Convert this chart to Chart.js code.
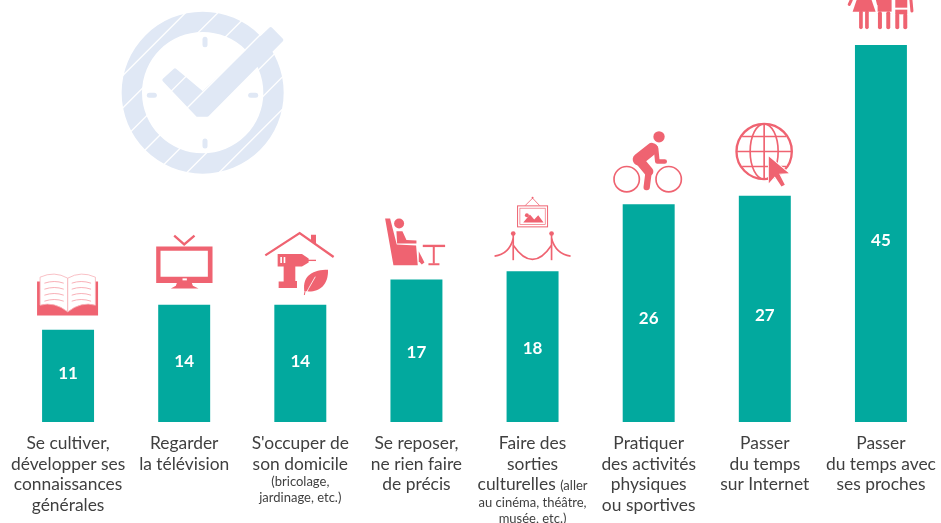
<!DOCTYPE html>
<html lang="fr">
<head>
<meta charset="utf-8">
<title>Activités</title>
<script src="https://cdn.jsdelivr.net/npm/chart.js@4/dist/chart.umd.min.js"></script>
<style>
    html, body { margin: 0; padding: 0; background: #fff; overflow: hidden; }
    canvas { display: block; }
</style>
</head>
<body>
<canvas id="grafico" width="941" height="523"></canvas>
<script>
// ce qui suit une parenthèse ouvrante est écrit en petit
const categories = [
    ['Se cultiver,', 'développer ses', 'connaissances', 'générales'],
    ['Regarder', 'la télévision'],
    ["S'occuper de", 'son domicile', '(bricolage,', 'jardinage, etc.)'],
    ['Se reposer,', 'ne rien faire', 'de précis'],
    ['Faire des', 'sorties', 'culturelles (aller', 'au cinéma, théâtre,', 'musée, etc.)'],
    ['Pratiquer', 'des activités', 'physiques', 'ou sportives'],
    ['Passer', 'du temps', 'sur Internet'],
    ['Passer', 'du temps avec', 'ses proches']
];
const valeurs = [11, 14, 14, 17, 18, 26, 27, 45];

const VERT = '#02a99e';
const ROSE = '#ef6371';
const TEXTE = '#3f3f3f';
const FOND_HORLOGE = '#e0e8f5';
const POLICE_GRANDE = '17.4px Lato';
const POLICE_PETITE = '13px Lato';
// décalages en pixels par rapport au milieu et au haut de chaque barre
const decalageValeur = [-2, -2, -2, 2, 2, 5, 7, 7];
const decalageIcone = [-2, -3, -3, -1, -1, -2, 0, 0];

function ligne(ctx, pts, largeur, couleur) {
    ctx.beginPath();
    pts.forEach((p, i) => i ? ctx.lineTo(p[0], p[1]) : ctx.moveTo(p[0], p[1]));
    ctx.lineWidth = largeur;
    ctx.strokeStyle = couleur || ROSE;
    ctx.stroke();
}
function poly(ctx, pts, couleur) {
    ctx.beginPath();
    pts.forEach((p, i) => i ? ctx.lineTo(p[0], p[1]) : ctx.moveTo(p[0], p[1]));
    ctx.closePath();
    ctx.fillStyle = couleur || ROSE;
    ctx.fill();
}
function rond(ctx, x, y, r, couleur) {
    ctx.beginPath();
    ctx.arc(x, y, r, 0, Math.PI * 2);
    ctx.fillStyle = couleur || ROSE;
    ctx.fill();
}
function cercle(ctx, x, y, r, largeur) {
    ctx.beginPath();
    ctx.arc(x, y, r, 0, Math.PI * 2);
    ctx.lineWidth = largeur;
    ctx.strokeStyle = ROSE;
    ctx.stroke();
}

// pictogrammes : unités = 1/3 de pixel, origine = milieu du haut de la barre
function iconeLivre(ctx) {
    poly(ctx, [[-93, -139], [90, -139], [90, -37], [-93, -37]]);
    [-1, 1].forEach(s => {
        const px = x => -1 + s * x;
        ctx.beginPath();
        ctx.moveTo(px(0), -149);
        ctx.quadraticCurveTo(px(40), -172, px(83), -152);
        ctx.lineTo(px(83), -68);
        ctx.quadraticCurveTo(px(40), -80, px(0), -48);
        ctx.closePath();
        ctx.fillStyle = '#fff';
        ctx.fill();
        ctx.lineWidth = 2.5;
        ctx.strokeStyle = '#f8b5bb';
        ctx.stroke();
        [-136, -118, -100, -82].forEach(y => {
            ctx.beginPath();
            ctx.moveTo(px(12), y + 2);
            ctx.quadraticCurveTo(px(40), y - 8, px(70), y + 2);
            ctx.lineWidth = 2.5;
            ctx.strokeStyle = '#f6a0a8';
            ctx.stroke();
        });
    });
}
function iconeTele(ctx) {
    ligne(ctx, [[-30, -198], [0, -172], [31, -198]], 7);
    poly(ctx, [[-84, -166], [85, -166], [85, -56], [-84, -56]]);
    poly(ctx, [[-71, -153], [71, -153], [71, -75], [-71, -75]], '#fff');
    poly(ctx, [[-5, -70], [8, -70], [8, -64], [-5, -64]], '#fff');
    poly(ctx, [[-22, -56], [23, -56], [26, -48], [43, -40], [-40, -40], [-25, -48]]);
}
function iconeMaison(ctx) {
    ligne(ctx, [[-105, -139], [-2, -206], [100, -134]], 7);
    poly(ctx, [[32, -201], [47, -201], [47, -172], [32, -184]]);
    poly(ctx, [[-68, -143], [5, -143], [25, -130], [25, -118], [5, -106], [-15, -106], [-15, -62], [-10, -62], [-10, -41], [-65, -41], [-65, -61], [-50, -61], [-50, -106], [-68, -106]]);
    ligne(ctx, [[20, -124], [47, -124]], 4);
    poly(ctx, [[-60, -134], [-55, -134], [-55, -116], [-60, -116]], '#fff');
    poly(ctx, [[-50, -134], [-45, -134], [-45, -116], [-50, -116]], '#fff');
    ctx.beginPath();
    ctx.moveTo(83, -96);
    ctx.bezierCurveTo(40, -96, 5, -80, 12, -32);
    ctx.bezierCurveTo(50, -25, 85, -45, 83, -96);
    ctx.closePath();
    ctx.fillStyle = ROSE;
    ctx.fill();
    ligne(ctx, [[45, -75], [25, -40], [15, -20]], 2.5, '#fff');
    ligne(ctx, [[15, -35], [12, -20]], 3);
}
function iconeFauteuil(ctx) {
    poly(ctx, [[-94, -180], [-79, -180], [-59, -102], [-1, -99], [4, -40], [-69, -40]]);
    rond(ctx, -52, -165, 15);
    poly(ctx, [[-60, -142], [-42, -142], [-30, -116], [0, -114], [0, -105], [-58, -105]]);
    poly(ctx, [[7, -82], [24, -48], [16, -42], [7, -52]]);
    ligne(ctx, [[19, -98], [86, -98]], 7);
    ligne(ctx, [[52, -96], [52, -45]], 6);
    ligne(ctx, [[36, -43], [69, -43]], 6);
}
function iconeMusee(ctx) {
    ctx.strokeStyle = ROSE;
    ctx.lineWidth = 3;
    ctx.strokeRect(-45, -193, 90, 63);
    ctx.lineWidth = 2;
    ctx.strokeRect(-38, -186, 76, 49);
    poly(ctx, [[-28, -143], [-8, -167], [5, -152], [17, -165], [33, -143]]);
    rond(ctx, -17, -165, 6);
    ligne(ctx, [[-22, -194], [0, -216], [21, -194]], 2.5);
    rond(ctx, 0, -217, 3);
    rond(ctx, -58, -110, 7);
    rond(ctx, 57, -110, 7);
    ligne(ctx, [[-58, -110], [-58, -30]], 5);
    ligne(ctx, [[57, -110], [57, -30]], 5);
    ctx.lineWidth = 5;
    ctx.strokeStyle = ROSE;
    ctx.beginPath(); ctx.moveTo(-114, -42); ctx.quadraticCurveTo(-70, -48, -58, -95); ctx.stroke();
    ctx.beginPath(); ctx.moveTo(-58, -75); ctx.quadraticCurveTo(0, 10, 57, -75); ctx.stroke();
    ctx.beginPath(); ctx.moveTo(57, -95); ctx.quadraticCurveTo(70, -48, 114, -42); ctx.stroke();
}
function iconeVelo(ctx) {
    cercle(ctx, -66, -69, 38, 5);
    cercle(ctx, 60, -69, 38, 5);
    rond(ctx, 31, -196, 17);
    ctx.lineJoin = 'round';
    ctx.lineCap = 'round';
    ligne(ctx, [[10, -160], [-30, -128]], 36);
    ligne(ctx, [[-30, -128], [0, -92]], 28);
    ligne(ctx, [[0, -92], [-6, -45]], 19);
    ligne(ctx, [[22, -162], [26, -122], [48, -122]], 14);
}
function iconeGlobe(ctx) {
    cercle(ctx, -2, -133, 83, 7);
    ctx.lineWidth = 5;
    ctx.strokeStyle = ROSE;
    ctx.beginPath(); ctx.ellipse(-2, -133, 42, 83, 0, 0, Math.PI * 2); ctx.stroke();
    ligne(ctx, [[-2, -216], [-2, -50]], 5);
    ligne(ctx, [[-85, -133], [81, -133]], 5);
    ligne(ctx, [[-68, -178], [64, -178]], 5);
    ligne(ctx, [[-68, -88], [64, -88]], 5);
    const fleche = [[12, -118], [12, -38], [30, -58], [50, -28], [60, -33], [43, -66], [72, -68]];
    ctx.lineJoin = 'miter';
    ctx.beginPath();
    fleche.forEach((p, i) => i ? ctx.lineTo(p[0], p[1]) : ctx.moveTo(p[0], p[1]));
    ctx.closePath();
    ctx.lineWidth = 5;
    ctx.strokeStyle = '#fff';
    ctx.stroke();
    poly(ctx, fleche);
}
function iconeFamille(ctx) {
    poly(ctx, [[-73, -135], [-28, -135], [-16, -100], [-85, -100]]);
    ctx.lineCap = 'round';
    ligne(ctx, [[-60, -98], [-60, -53]], 11);
    ligne(ctx, [[-42, -98], [-42, -53]], 11);
    ligne(ctx, [[-89, -135], [-95, -122]], 9);
    ligne(ctx, [[-12, -135], [-9, -122]], 6);
    poly(ctx, [[-10, -135], [32, -135], [32, -100], [-10, -100]]);
    ligne(ctx, [[-3, -95], [-3, -53]], 12);
    ligne(ctx, [[22, -95], [22, -53]], 12);
    poly(ctx, [[43, -135], [79, -135], [79, -112], [43, -112]]);
    poly(ctx, [[43, -106], [79, -106], [79, -92], [43, -92]]);
    ligne(ctx, [[49, -90], [49, -53]], 12);
    ligne(ctx, [[73, -90], [73, -53]], 12);
    ligne(ctx, [[90, -135], [93, -102]], 9);
}
const icones = [iconeLivre, iconeTele, iconeMaison, iconeFauteuil, iconeMusee, iconeVelo, iconeGlobe, iconeFamille];

function dessineHorloge(ctx) {
    ctx.save();
    ctx.translate(100, 0);
    ctx.scale(1 / 3, 1 / 3);
    ctx.beginPath();
    ctx.arc(308, 278, 243, 0, Math.PI * 2);
    ctx.arc(308, 278, 182, 0, Math.PI * 2, true);
    ctx.fillStyle = FOND_HORLOGE;
    ctx.fill();
    ctx.lineCap = 'round';
    ligne(ctx, [[315, 118], [315, 134]], 15, FOND_HORLOGE);
    ligne(ctx, [[315, 423], [315, 438]], 15, FOND_HORLOGE);
    ligne(ctx, [[148, 286], [163, 286]], 15, FOND_HORLOGE);
    ligne(ctx, [[452, 286], [467, 286]], 15, FOND_HORLOGE);
    ctx.lineJoin = 'round';
    const coche = [[225, 210], [192, 240], [292, 345], [322, 345], [545, 120], [512, 86], [308, 280]];
    poly(ctx, coche, FOND_HORLOGE);
    ctx.beginPath();
    coche.forEach((p, i) => i ? ctx.lineTo(p[0], p[1]) : ctx.moveTo(p[0], p[1]));
    ctx.closePath();
    ctx.lineWidth = 10;
    ctx.strokeStyle = FOND_HORLOGE;
    ctx.stroke();
    // fines rayures blanches en diagonale
    ctx.lineCap = 'butt';
    [295, 392, 487, 585, 685, 778, 875].forEach(s => {
        ligne(ctx, [[s - 560, 560], [s, 0]], 4, '#fff');
    });
    ctx.restore();
}

function dessineLigne(ctx, texte, cx, y, petite) {
    const i = texte.indexOf('(');
    ctx.textBaseline = 'middle';
    if (i > 0) {
        // ligne mixte : grand texte suivi de petit texte
        const debut = texte.slice(0, i);
        const fin = texte.slice(i);
        ctx.font = POLICE_GRANDE;
        const l1 = ctx.measureText(debut).width;
        ctx.font = POLICE_PETITE;
        const l2 = ctx.measureText(fin).width;
        const x = cx - (l1 + l2) / 2;
        ctx.textAlign = 'left';
        ctx.font = POLICE_GRANDE;
        ctx.fillText(debut, x, y);
        ctx.font = POLICE_PETITE;
        ctx.fillText(fin, x + l1, y + 1);
    } else {
        ctx.textAlign = 'center';
        ctx.font = petite ? POLICE_PETITE : POLICE_GRANDE;
        ctx.fillText(texte, cx, y);
    }
}

function dessineEtiquette(ctx, lignes, cx) {
    let y = 443.5;
    let parenthese = false;
    let precedentePetite = false;
    lignes.forEach((texte, n) => {
        const petite = parenthese || texte.startsWith('(');
        if (n > 0) y += petite ? (precedentePetite ? 16 : 18) : 20.5;
        dessineLigne(ctx, texte, cx, y, petite);
        precedentePetite = petite;
        if (texte.includes('(')) parenthese = true;
    });
}

const decorPlugin = {
    id: 'decor',
    beforeDatasetsDraw(chart) {
        dessineHorloge(chart.ctx);
    },
    afterDatasetsDraw(chart) {
        const ctx = chart.ctx;
        const x = chart.scales.x;
        chart.getDatasetMeta(0).data.forEach((barre, i) => {
            ctx.save();
            ctx.translate(barre.x, barre.y + decalageIcone[i]);
            ctx.scale(1 / 3, 1 / 3);
            icones[i](ctx);
            ctx.restore();

            ctx.save();
            ctx.fillStyle = '#fff';
            ctx.font = 'bold 17px Lato';
            ctx.textAlign = 'center';
            ctx.textBaseline = 'middle';
            ctx.fillText(String(valeurs[i]), barre.x, (barre.y + barre.base) / 2 + decalageValeur[i]);
            ctx.restore();

            ctx.save();
            ctx.fillStyle = TEXTE;
            dessineEtiquette(ctx, categories[i], x.getPixelForTick(i));
            ctx.restore();
        });
    }
};

new Chart(document.getElementById('grafico'), {
    type: 'bar',
    data: {
        labels: categories,
        datasets: [{
            data: valeurs,
            backgroundColor: VERT,
            barPercentage: 0.4475,
            categoryPercentage: 1
        }]
    },
    options: {
        responsive: false,
        animation: false,
        layout: { padding: { left: 10, right: 2, top: 45, bottom: 101 } },
        plugins: { legend: { display: false }, tooltip: { enabled: false } },
        scales: {
            x: { display: false },
            y: { display: false, min: 0, max: 45 }
        }
    },
    plugins: [decorPlugin]
});
</script>
</body>
</html>
